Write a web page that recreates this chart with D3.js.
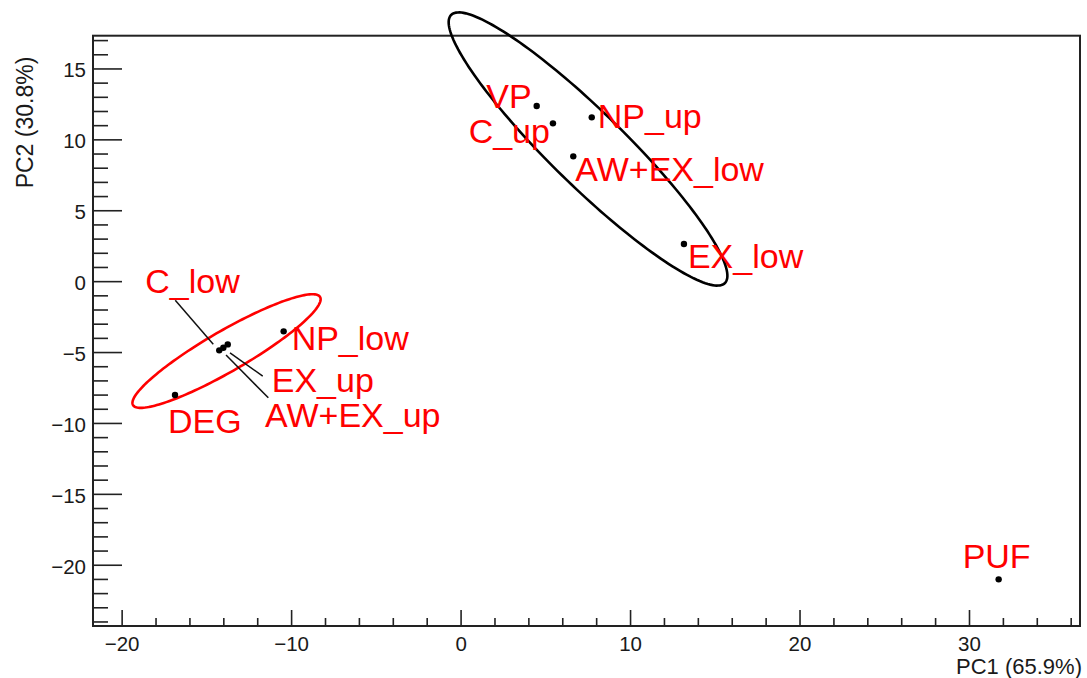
<!DOCTYPE html>
<html>
<head>
<meta charset="utf-8">
<script src="https://cdn.jsdelivr.net/npm/d3@7"></script>
<style>
  html, body { margin: 0; padding: 0; background: #fff; }
  svg { display: block; }
</style>
</head>
<body>
<svg id="chart" width="1087" height="678"></svg>
<script>
// ---------------- data ----------------
const sampleNames = ["VP", "C_up", "NP_up", "AW+EX_low", "EX_low", "C_low", "NP_low", "EX_up", "AW+EX_up", "DEG", "PUF"];
const pc1Values   = [4.49, 5.45, 7.74, 6.65, 13.18, -14.24, -10.44, -13.74, -14.00, -16.85, 31.75];
const pc2Values   = [12.35, 11.13, 11.55, 8.80, 2.62, -4.88, -3.54, -4.46, -4.70, -8.03, -21.03];

// confidence ellipses: centre + two conjugate semi-diameters (data units)
const ellipseCenterX = [7.52, -13.81];
const ellipseCenterY = [9.32, -4.93];
const ellipseAxisA   = [[-8.08, 9.45], [5.52, 3.81]];
const ellipseAxisB   = [[1.53, 1.87], [0.60, -1.24]];

const xMajorTicks = [-20, -10, 0, 10, 20, 30];
const yMajorTicks = [-20, -15, -10, -5, 0, 5, 10, 15];
const xTitle = "PC1 (65.9%)";
const yTitle = "PC2 (30.8%)";

// ---------------- layout / style ----------------
const frame = { left: 93, right: 1080, top: 35.7, bottom: 626 };
const xDomain = [-21.69, 36.55];
const yDomain = [-24.32, 17.31];
const ellipseColors = ["#000000", "#ff0000"];
const labelColor = "#ff0000";
const labelFont = "Liberation Sans, Arial, Helvetica, sans-serif";
// label placement relative to the point, in px: [anchor, dx, dy, leader?]
const labelLayout = {
  "VP":        ["end",   -5,   2],
  "C_up":      ["end",   -3,  20],
  "NP_up":     ["start",  6,  11],
  "AW+EX_low": ["start",  2,  25],
  "EX_low":    ["start",  4,  24],
  "C_low":     ["start", -74, -57, [-44, -50, -6, -6]],
  "NP_low":    ["start",  8,  19],
  "EX_up":     ["start", 44,  47.4, [2.3, 8.4, 35, 31.7]],
  "AW+EX_up":  ["start", 41.7, 79, [2.7, 7.3, 45, 50]],
  "DEG":       ["start", -7,  38],
  "PUF":       ["middle", -2, -11]
};

const svg = d3.select("#chart");
const x = d3.scaleLinear().domain(xDomain).range([frame.left, frame.right]);
const y = d3.scaleLinear().domain(yDomain).range([frame.bottom, frame.top]);

const axisColor = "#222";

// ---- minor / major ticks via d3 axes ----
const xMinor = d3.range(-20, 37, 2).filter(v => v % 10 !== 0 && v >= xDomain[0] && v <= xDomain[1]);
const yMinor = d3.range(-24, 18, 1).filter(v => v % 5 !== 0 && v >= yDomain[0] && v <= yDomain[1]);

function styleAxis(g) {
  g.select(".domain").remove();
  g.selectAll(".tick line").attr("stroke", axisColor).attr("stroke-width", 1.6);
}

svg.append("g").attr("transform", `translate(0,${frame.bottom})`)
  .call(d3.axisBottom(x).tickValues(xMinor).tickSize(-8).tickFormat(""))
  .call(styleAxis);
const gx = svg.append("g").attr("transform", `translate(0,${frame.bottom})`)
  .call(d3.axisBottom(x).tickValues(xMajorTicks).tickSize(-16).tickFormat(d3.format("d")))
  .call(styleAxis);
gx.selectAll(".tick text")
  .attr("y", 24.5).attr("dy", null)
  .attr("font-family", labelFont).attr("font-size", 20.5).attr("fill", "#1a1a1a");

svg.append("g").attr("transform", `translate(${frame.left},0)`)
  .call(d3.axisLeft(y).tickValues(yMinor).tickSize(-15).tickFormat(""))
  .call(styleAxis);
const gy = svg.append("g").attr("transform", `translate(${frame.left},0)`)
  .call(d3.axisLeft(y).tickValues(yMajorTicks).tickSize(-29).tickFormat(d3.format("d")))
  .call(styleAxis);
gy.selectAll(".tick text")
  .attr("x", -7).attr("dy", 8.3)
  .attr("font-family", labelFont).attr("font-size", 20.5).attr("fill", "#1a1a1a");

// frame
svg.append("rect")
  .attr("x", frame.left).attr("y", frame.top)
  .attr("width", frame.right - frame.left).attr("height", frame.bottom - frame.top)
  .attr("fill", "none").attr("stroke", axisColor).attr("stroke-width", 2);

// axis titles
svg.append("text").text(xTitle)
  .attr("x", 1082).attr("y", 674).attr("text-anchor", "end")
  .attr("font-family", labelFont).attr("font-size", 22).attr("fill", "#1a1a1a");
svg.append("text").text(yTitle)
  .attr("transform", "translate(32.5,56.7) rotate(-90)")
  .attr("text-anchor", "end")
  .attr("font-family", labelFont).attr("font-size", 23).attr("fill", "#1a1a1a");

// ellipses
const tSteps = d3.range(0, 2 * Math.PI + 0.001, Math.PI / 90);
const ellLine = d3.line().x(d => x(d[0])).y(d => y(d[1])).curve(d3.curveLinearClosed);
ellipseCenterX.forEach((cx, i) => {
  const cy = ellipseCenterY[i], A = ellipseAxisA[i], B = ellipseAxisB[i];
  const pts = tSteps.map(t => [cx + A[0] * Math.cos(t) + B[0] * Math.sin(t),
                               cy + A[1] * Math.cos(t) + B[1] * Math.sin(t)]);
  svg.append("path").attr("d", ellLine(pts))
    .attr("fill", "none").attr("stroke", ellipseColors[i]).attr("stroke-width", 2.6);
});

// points data
const points = sampleNames.map((n, i) => ({ name: n, px: pc1Values[i], py: pc2Values[i] }));

// leader lines
points.forEach(p => {
  const L = labelLayout[p.name];
  if (L && L[3]) {
    const [x1, y1, x2, y2] = L[3];
    svg.append("line")
      .attr("x1", x(p.px) + x1).attr("y1", y(p.py) + y1)
      .attr("x2", x(p.px) + x2).attr("y2", y(p.py) + y2)
      .attr("stroke", "#111").attr("stroke-width", 1.5);
  }
});

// dots
svg.append("g").selectAll("circle").data(points).join("circle")
  .attr("cx", d => x(d.px)).attr("cy", d => y(d.py)).attr("r", 3.2)
  .attr("fill", "#000");

// labels
svg.append("g").selectAll("text").data(points).join("text")
  .text(d => d.name)
  .attr("x", d => x(d.px) + labelLayout[d.name][1])
  .attr("y", d => y(d.py) + labelLayout[d.name][2])
  .attr("text-anchor", d => labelLayout[d.name][0])
  .attr("font-family", labelFont).attr("font-size", 34)
  .attr("fill", labelColor);
</script>
</body>
</html>
